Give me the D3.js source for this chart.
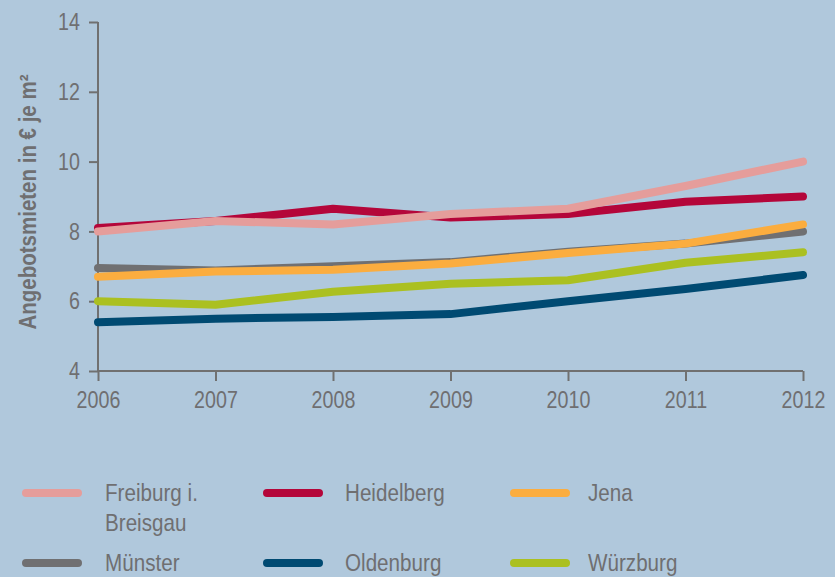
<!DOCTYPE html>
<html><head><meta charset="utf-8">
<script src="https://cdn.jsdelivr.net/npm/d3@7"></script>
<style>
html,body{margin:0;padding:0;background:#b0c8dc;}
text{font-family:"Liberation Sans",Arial,sans-serif;fill:#6f6f71;}
</style></head>
<body><svg id="c" width="835" height="577"></svg>
<script>
const years = [2006, 2007, 2008, 2009, 2010, 2011, 2012];
const yTicks = [4, 6, 8, 10, 12, 14];
const freiburg   = [8.0, 8.3, 8.2, 8.5, 8.65, 9.3, 10.0];
const heidelberg = [8.1, 8.3, 8.65, 8.4, 8.5, 8.85, 9.0];
const jena       = [6.7, 6.85, 6.9, 7.08, 7.38, 7.65, 8.2];
const muenster   = [6.95, 6.88, 7.0, 7.12, 7.42, 7.65, 8.0];
const oldenburg  = [5.4, 5.5, 5.55, 5.63, 6.0, 6.35, 6.75];
const wuerzburg  = [6.0, 5.9, 6.27, 6.5, 6.6, 7.1, 7.4];
const seriesNames = ["Freiburg i. Breisgau", "Heidelberg", "Jena", "Münster", "Oldenburg", "Würzburg"];
const seriesColors = ["#e59d9b", "#b4063a", "#fbad3f", "#707072", "#004a72", "#abc021"];
const yTitle = "Angebotsmieten in € je m²";

const seriesValues = [freiburg, heidelberg, jena, muenster, oldenburg, wuerzburg];
const svg = d3.select("#c");
const x = d3.scaleLinear().domain([2006, 2012]).range([98, 803]);
const y = d3.scaleLinear().domain([4, 14]).range([371, 22]);

const axisColor = "#707070";
const sx = 0.82;
const yAxis = svg.append("g").attr("transform", "translate(98,0)")
  .call(d3.axisLeft(y).tickValues(yTicks).tickSize(9).tickPadding(9).tickFormat(d3.format("d")));
const xAxis = svg.append("g").attr("transform", "translate(0,371)")
  .call(d3.axisBottom(x).tickValues(years).tickSize(10).tickPadding(10).tickFormat(d3.format("d")));
[xAxis, yAxis].forEach(g => {
  g.selectAll("path,line").attr("stroke", axisColor).attr("stroke-width", 2);
  g.selectAll("text").attr("font-size", 24).attr("fill", "#6f6f71")
   .style("font-family", '"Liberation Sans",Arial,sans-serif')
   .attr("transform", `scale(${sx},1)`);
});
yAxis.selectAll(".tick text").attr("x", -18 / sx);
xAxis.selectAll(".tick text").attr("x", 0);
yAxis.select(".domain").attr("d", "M0,22V371");
xAxis.select(".domain").attr("d", "M98,0H803");

svg.append("text").attr("transform", "translate(36,202) rotate(-90)")
  .attr("text-anchor", "middle").attr("font-size", 23).attr("font-weight", "bold")
  .attr("textLength", 255).attr("lengthAdjust", "spacingAndGlyphs")
  .text(yTitle);

const line = d3.line().x((d, i) => x(years[i])).y(d => y(d));
const drawOrder = [3, 2, 5, 4, 1, 0];
drawOrder.forEach(k => {
  svg.append("path").datum(seriesValues[k]).attr("d", line)
    .attr("fill", "none").attr("stroke", seriesColors[k]).attr("stroke-width", 8)
    .attr("stroke-linecap", "round").attr("stroke-linejoin", "round");
});

// legend
const swX = [22, 263, 510];
const labX = [105, 345, 588];
const rowY = [493, 563];
seriesNames.forEach((name, i) => {
  const c = i % 3, r = Math.floor(i / 3);
  const cy = rowY[r];
  svg.append("line").attr("x1", swX[c] + 4).attr("x2", swX[c] + 56).attr("y1", cy).attr("y2", cy)
    .attr("stroke", seriesColors[i]).attr("stroke-width", 8).attr("stroke-linecap", "round");
  const g = svg.append("g").attr("transform", `translate(${labX[c]},${cy + 8}) scale(0.86,1)`);
  const t = g.append("text").attr("x", 0).attr("y", 0).attr("font-size", 24);
  if (name === "Freiburg i. Breisgau") {
    t.append("tspan").attr("x", 0).text("Freiburg i.");
    t.append("tspan").attr("x", 0).attr("dy", 30).text("Breisgau");
  } else t.text(name);
});
</script></body></html>
